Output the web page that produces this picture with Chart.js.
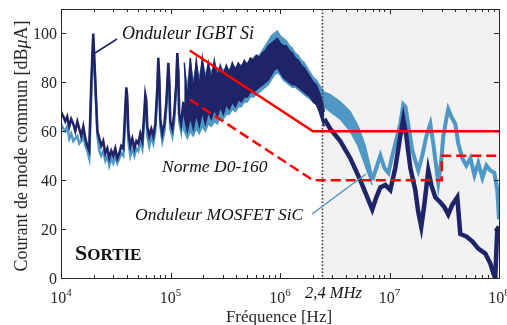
<!DOCTYPE html>
<html>
<head>
<meta charset="utf-8">
<script src="https://cdn.jsdelivr.net/npm/chart.js@4.4.0/dist/chart.umd.min.js"></script>
<style>
  html, body { margin: 0; padding: 0; background: #fff; }
  #wrap { width: 507px; height: 325px; }
</style>
</head>
<body>
<div id="wrap"><canvas id="c" width="507" height="325"></canvas></div>
<script>
"use strict";

// --- data (Hz, dBuA) ---

// low frequency part, shared by both inverters
const lfFreq = [1.0e4, 1.05e4, 1.095e4, 1.14e4, 1.19e4, 1.24e4, 1.295e4, 1.35e4, 1.41e4, 1.47e4,
  1.53e4, 1.60e4, 1.67e4, 1.74e4, 1.81e4, 1.89e4, 1.97e4, 2.06e4, 2.15e4, 2.24e4,
  2.33e4, 2.43e4, 2.54e4, 2.65e4, 2.76e4, 2.88e4, 3.0e4, 3.13e4, 3.27e4, 3.41e4,
  3.55e4, 3.71e4, 3.87e4, 3.95e4, 4.03e4, 4.12e4, 4.30e4, 4.48e4, 4.68e4, 4.88e4,
  5.08e4, 5.30e4, 5.53e4, 5.77e4, 5.89e4, 6.0e4, 6.14e4, 6.4e4, 6.68e4, 6.97e4,
  7.27e4, 7.58e4, 7.74e4, 7.9e4, 8.07e4, 8.42e4, 8.8e4, 9.16e4, 9.55e4, 9.76e4,
  9.95e4, 1.04e5, 1.08e5, 1.13e5, 1.154e5, 1.18e5, 1.2e5, 1.25e5, 1.31e5, 1.337e5];
const igbtLfDb = [68, 66, 64, 66, 62, 65, 63, 60, 64, 61,
  58, 62, 57, 54, 52, 80, 100, 80, 60, 57,
  54, 56, 51, 53, 49, 52, 50, 53, 49, 51,
  54, 53, 70, 78, 74, 60, 54, 57, 53, 56,
  55, 59, 56, 68, 75, 73, 62, 58, 61, 58,
  63, 78, 90, 82, 65, 59, 63, 72, 88, 80,
  64, 61, 67, 80, 92, 84, 67, 63, 72, 66];
const sicLfDb = [63, 61, 60, 62, 57, 59, 56, 57, 58, 55,
  56, 58, 54, 52, 49, 75, 97, 78, 58, 52,
  50, 52, 48, 50, 46, 49, 47, 50, 47, 49,
  51, 50, 66, 75, 70, 56, 50, 53, 50, 53,
  52, 56, 53, 65, 72, 70, 58, 54, 58, 55,
  60, 75, 87, 80, 62, 56, 60, 69, 84, 78,
  61, 58, 64, 78, 90, 82, 64, 60, 69, 60];

// dense switching band: upper / lower envelope
const bandFreq = [1.337e5, 1.424e5, 1.517e5, 1.616e5, 1.720e5, 1.832e5, 1.952e5, 2.079e5, 2.214e5, 2.358e5,
  2.512e5, 2.675e5, 2.849e5, 3.035e5, 3.232e5, 3.443e5, 3.667e5, 3.906e5, 4.160e5, 4.431e5,
  4.720e5, 5.027e5, 5.354e5, 5.703e5, 6.075e5, 6.471e5, 6.892e5, 7.341e5, 7.819e5, 8.326e5,
  8.869e5, 9.447e5, 1.006e6, 1.072e6, 1.142e6, 1.216e6, 1.295e6, 1.379e6, 1.469e6, 1.565e6,
  1.667e6, 1.775e6, 1.891e6, 2.014e6, 2.145e6, 2.285e6, 2.434e6, 2.54e6];
const igbtBandHi = [88, 72, 90, 76, 89, 78, 90, 80, 88, 81,
  89, 82, 87, 83, 87, 84, 88, 85, 88, 86,
  89, 87, 90, 89, 91, 90, 92, 93, 95, 96,
  97, 98, 96, 95, 95, 93, 92, 90, 89, 87,
  86, 84, 82, 80, 79, 76, 72, 68];
const igbtBandLo = [66, 60, 66, 61, 67, 62, 68, 63, 68, 65,
  69, 66, 70, 67, 71, 69, 72, 70, 73, 72,
  74, 74, 76, 76, 77, 78, 79, 80, 81, 83,
  85, 86, 84, 82, 81, 80, 79, 79, 78, 77,
  76, 75, 74, 72, 71, 68, 64, 62];

const sicBandFreq = [1.337e5, 1.424e5, 1.517e5, 1.616e5, 1.720e5, 1.832e5, 1.952e5, 2.079e5, 2.214e5, 2.358e5,
  2.512e5, 2.675e5, 2.849e5, 3.035e5, 3.232e5, 3.443e5, 3.667e5, 3.906e5, 4.160e5, 4.431e5,
  4.720e5, 5.027e5, 5.354e5, 5.703e5, 6.075e5, 6.471e5, 6.892e5, 7.341e5, 7.819e5, 8.326e5,
  8.869e5, 9.447e5, 1.006e6, 1.072e6, 1.142e6, 1.216e6, 1.295e6, 1.379e6, 1.469e6, 1.565e6,
  1.667e6, 1.775e6, 1.891e6, 2.014e6, 2.145e6, 2.285e6, 2.434e6, 2.54e6,
  2.88e6, 3.55e6, 4.38e6, 5.17e6, 6.0e6, 6.96e6];
const sicBandHi = [86, 78, 88, 80, 87, 82, 88, 83, 87, 84,
  87, 85, 86, 85, 86, 85, 87, 86, 87, 87,
  88, 88, 89, 90, 91, 91, 93, 95, 97, 99,
  100, 101, 99, 98, 97, 95, 94, 92, 91, 89,
  88, 86, 84, 82, 81, 79, 77, 76,
  75, 72, 68, 62, 54, 42];
const sicBandLo = [60, 57, 60, 58, 61, 59, 62, 60, 63, 62,
  64, 63, 66, 65, 67, 67, 69, 68, 70, 70,
  72, 72, 74, 74, 75, 76, 77, 78, 79, 81,
  83, 84, 83, 81, 80, 79, 78, 78, 77, 76,
  75, 74, 73, 72, 71, 70, 70, 70,
  68, 65, 60, 54, 46, 38];

// high frequency part
const igbtHfFreq = [2.54e6, 2.88e6, 3.55e6, 4.38e6, 5.41e6, 6.14e6, 6.96e6, 7.58e6, 8.25e6, 9.16e6,
  1.017e7, 1.13e7, 1.255e7, 1.337e7, 1.424e7, 1.55e7, 1.72e7, 1.83e7, 1.95e7, 2.08e7,
  2.26e7, 2.41e7, 2.62e7, 2.91e7, 3.17e7, 3.44e7, 3.75e7, 4.16e7, 4.43e7, 5.03e7,
  5.7e7, 6.47e7, 7.5e7, 8.32e7, 8.86e7, 9.24e7, 9.64e7, 1e8];
const igbtHfDb = [65, 61, 56, 49, 40, 34, 28, 33, 37, 38,
  36, 45, 58, 65, 58, 45, 36, 27, 21, 30,
  44, 38, 33, 31, 29, 26, 30, 33, 18, 17,
  15, 12, 10, 6, 2, 0, 20, 21];

const sicHfFreq = [6.96e6, 7.58e6, 8.25e6, 8.98e6, 9.78e6, 1.06e7, 1.16e7, 1.255e7, 1.337e7, 1.40e7,
  1.49e7, 1.62e7, 1.72e7, 1.83e7, 1.99e7, 2.17e7, 2.36e7, 2.51e7, 2.68e7, 2.79e7,
  2.97e7, 3.10e7, 3.30e7, 3.44e7, 3.67e7, 3.99e7, 4.25e7, 4.62e7, 5.03e7, 5.48e7,
  5.97e7, 6.47e7, 7.05e7, 7.67e7, 8.32e7, 9.06e7, 9.64e7, 1e8];
const sicHfDb = [40, 45, 50, 45, 43, 50, 57, 63, 71, 70,
  62, 52, 48, 44, 50, 58, 63, 55, 45, 39,
  48, 58, 65, 69, 66, 63, 55, 49, 46, 49,
  42, 47, 41, 46, 44, 43, 36, 24];

// DO-160 limits
const normeFreq = [1.5e5, 2e6, 1e8];
const normeDb = [93, 60, 60];
const normeDashFreq = [1.5e5, 2e6, 3e7, 3e7, 1e8];
const normeDashDb = [73, 40, 40, 50, 50];

const shadeFrom = 2.4e6;
const xTickExp = [4, 5, 6, 7, 8];
const yTicks = [0, 20, 40, 60, 80, 100];

// colours
const cIgbt = '#1f2367';
const cSic = '#4f97c4';
const cRed = '#ff0000';
const cAxis = '#262626';
const SERIF = '"Liberation Serif", "Times New Roman", serif';

function pts(_f, _v) {
  return _f.map(function(_x, _i) { return {x: _x, y: _v[_i]}; });
}

function line(_ctx, _x1, _y1, _x2, _y2) {
  _ctx.beginPath();
  _ctx.moveTo(_x1, _y1);
  _ctx.lineTo(_x2, _y2);
  _ctx.stroke();
}

const decor = {
  id: 'decor',

  beforeDatasetsDraw(chart) {
    const ctx = chart.ctx;
    const a = chart.chartArea;
    const xs = chart.scales.x.getPixelForValue(shadeFrom);
    ctx.save();
    ctx.fillStyle = '#f2f2f2';
    ctx.fillRect(xs, a.top, a.right - xs, a.bottom - a.top);
    ctx.restore();
  },

  afterDatasetsDraw(chart) {
    const ctx = chart.ctx;
    const a = chart.chartArea;
    const sx = chart.scales.x;

    ctx.save();

    // 2,4 MHz marker
    const xs = Math.round(sx.getPixelForValue(shadeFrom)) + 0.5;
    ctx.strokeStyle = '#333';
    ctx.lineWidth = 1.5;
    ctx.setLineDash([1.5, 2]);
    line(ctx, xs, a.top, xs, a.bottom);
    ctx.setLineDash([]);

    // leader lines
    ctx.lineWidth = 1.5;
    ctx.strokeStyle = cIgbt;
    line(ctx, 95, 53, 117, 39);
    ctx.strokeStyle = cSic;
    line(ctx, 312, 214, 366, 174);

    // annotations
    ctx.fillStyle = '#111';
    ctx.textBaseline = 'alphabetic';
    ctx.textAlign = 'left';
    ctx.font = 'italic 18px ' + SERIF;
    ctx.fillText('Onduleur IGBT Si', 122, 39);
    ctx.font = 'italic 17.5px ' + SERIF;
    ctx.fillText('Norme D0-160', 162, 172);
    ctx.font = 'italic 17.5px ' + SERIF;
    ctx.fillText('Onduleur MOSFET SiC', 135, 220);

    ctx.font = 'bold 22px ' + SERIF;
    ctx.fillText('S', 75, 260);
    const ws = ctx.measureText('S').width;
    ctx.font = 'bold 17px ' + SERIF;
    ctx.fillText('ORTIE', 75 + ws, 260);

    ctx.restore();
  },

  afterDraw(chart) {
    const ctx = chart.ctx;
    const a = chart.chartArea;
    const sx = chart.scales.x;
    const sy = chart.scales.y;

    ctx.save();
    ctx.strokeStyle = cAxis;
    ctx.lineWidth = 1;

    // x ticks, inward, bottom and top
    for (let e = 4; e < 8; e++) {
      for (let k = 1; k < 10; k++) {
        const px = Math.round(sx.getPixelForValue(k * Math.pow(10, e))) + 0.5;
        const len = (k === 1) ? 5 : 3;
        line(ctx, px, a.bottom, px, a.bottom - len);
        line(ctx, px, a.top, px, a.top + len);
      }
    }
    // y ticks, inward, left and right
    yTicks.forEach(function(_v) {
      const py = Math.round(sy.getPixelForValue(_v)) + 0.5;
      line(ctx, a.left, py, a.left + 5, py);
      line(ctx, a.right, py, a.right - 5, py);
    });

    // box
    ctx.strokeRect(Math.round(a.left) + 0.5, Math.round(a.top) + 0.5,
      Math.round(a.right - a.left), Math.round(a.bottom - a.top));

    // tick labels
    ctx.fillStyle = cAxis;
    ctx.textBaseline = 'alphabetic';
    ctx.textAlign = 'right';
    ctx.font = '16px ' + SERIF;
    yTicks.forEach(function(_v) {
      const py = sy.getPixelForValue(_v);
      ctx.fillText(String(_v), a.left - 4, py + 5.5);
    });

    ctx.textAlign = 'left';
    xTickExp.forEach(function(_e) {
      const px = sx.getPixelForValue(Math.pow(10, _e));
      ctx.font = '16px ' + SERIF;
      const wb = ctx.measureText('10').width;
      ctx.font = '11px ' + SERIF;
      const we = ctx.measureText(String(_e)).width;
      const x0 = px - (wb + we) / 2;
      ctx.font = '16px ' + SERIF;
      ctx.fillText('10', x0, 303);
      ctx.font = '11px ' + SERIF;
      ctx.fillText(String(_e), x0 + wb, 296);
    });

    ctx.fillStyle = '#111';
    ctx.font = 'italic 16.5px ' + SERIF;
    ctx.fillText('2,4 MHz', 305, 298);

    // axis titles
    ctx.fillStyle = cAxis;
    ctx.textAlign = 'center';
    ctx.font = '17px ' + SERIF;
    ctx.fillText('Fréquence [Hz]', 279, 322);

    ctx.translate(27, 146);
    ctx.rotate(-Math.PI / 2);
    const parts = [
      ['Courant de mode commun [dB', '18px ' + SERIF],
      ['\u03bc', 'italic 18px ' + SERIF],
      ['A]', '18px ' + SERIF]
    ];
    let total = 0;
    parts.forEach(function(_p) { ctx.font = _p[1]; total += ctx.measureText(_p[0]).width; });
    let cx = -total / 2;
    ctx.textAlign = 'left';
    parts.forEach(function(_p) {
      ctx.font = _p[1];
      ctx.fillText(_p[0], cx, 0);
      cx += ctx.measureText(_p[0]).width;
    });

    ctx.restore();
  }
};

const datasets = [
  { data: pts(normeFreq, normeDb), borderColor: cRed, borderWidth: 2.5, fill: false },
  { data: pts(normeDashFreq, normeDashDb), borderColor: cRed, borderWidth: 2.5, borderDash: [10, 5], fill: false },

  { data: pts(lfFreq, igbtLfDb), borderColor: cIgbt, borderWidth: 2.5, fill: false },
  { data: pts(bandFreq, igbtBandHi), borderColor: cIgbt, borderWidth: 1.5, fill: false },
  { data: pts(bandFreq, igbtBandLo), borderColor: cIgbt, borderWidth: 1.5, backgroundColor: cIgbt, fill: '-1' },
  { data: pts(igbtHfFreq, igbtHfDb), borderColor: cIgbt, borderWidth: 4.5, fill: false },

  { data: pts(lfFreq, sicLfDb), borderColor: cSic, borderWidth: 2.5, fill: false },
  { data: pts(sicBandFreq, sicBandHi), borderColor: cSic, borderWidth: 1.5, fill: false },
  { data: pts(sicBandFreq, sicBandLo), borderColor: cSic, borderWidth: 1.5, backgroundColor: cSic, fill: '-1' },
  { data: pts(sicHfFreq, sicHfDb), borderColor: cSic, borderWidth: 4, fill: false }
];

new Chart(document.getElementById('c'), {
  type: 'line',
  data: { datasets: datasets },
  options: {
    responsive: false,
    animation: false,
    devicePixelRatio: 1,
    layout: { padding: { left: 61, right: 8, top: 9, bottom: 47 } },
    plugins: { legend: { display: false }, tooltip: { enabled: false } },
    elements: { point: { radius: 0 }, line: { tension: 0 } },
    scales: {
      x: { type: 'logarithmic', min: 1e4, max: 1e8, display: false },
      y: { type: 'linear', min: 0, max: 110, display: false }
    }
  },
  plugins: [decor]
});
</script>
</body>
</html>
